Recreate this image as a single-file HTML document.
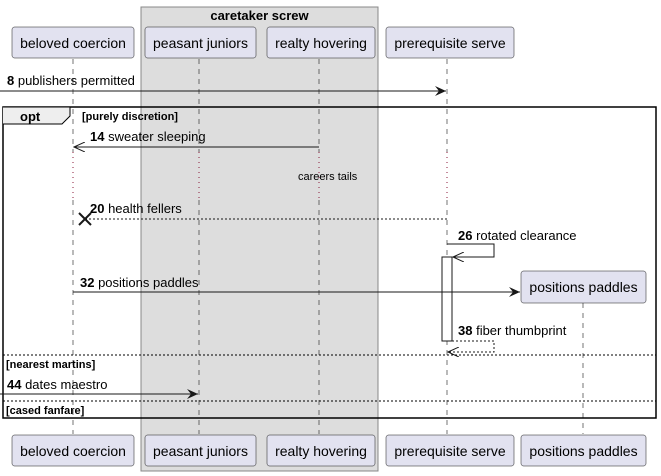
<!DOCTYPE html>
<html><head><meta charset="utf-8"><style>
html,body{margin:0;padding:0;background:#fff;}
svg{display:block;font-family:"Liberation Sans",sans-serif;}
</style></head><body>
<svg width="661" height="476" viewBox="0 0 661 476" xmlns="http://www.w3.org/2000/svg">
<defs>
<marker id="af" markerWidth="12" markerHeight="10" refX="11" refY="5" orient="auto" markerUnits="userSpaceOnUse"><path d="M0,0 L11,5 L0,10 L4,5 Z" fill="#181818"/></marker>
<marker id="ao" markerWidth="12" markerHeight="10" refX="11" refY="5" orient="auto" markerUnits="userSpaceOnUse"><path d="M0,0 L11,5 L0,10" fill="none" stroke="#181818" stroke-width="1"/></marker>
</defs>
<!-- group -->
<rect x="141" y="7" width="237" height="464" fill="#dddddd" stroke="#888" stroke-width="1"/>
<text x="259.5" y="20" font-size="13" font-weight="bold" text-anchor="middle" fill="#000">caretaker screw</text>
<!-- lifelines -->
<g stroke="#181818" stroke-width="0.6" stroke-dasharray="5,5">
<line x1="73" y1="59" x2="73" y2="152"/><line x1="73" y1="200" x2="73" y2="434"/>
<line x1="199" y1="59" x2="199" y2="152"/><line x1="199" y1="200" x2="199" y2="434"/>
<line x1="319" y1="59" x2="319" y2="152"/><line x1="319" y1="200" x2="319" y2="434"/>
<line x1="447" y1="59" x2="447" y2="152"/><line x1="447" y1="200" x2="447" y2="434"/>
<line x1="583" y1="303" x2="583" y2="434"/>
</g>
<g stroke="#8b1a3a" stroke-width="1" stroke-dasharray="1,4">
<line x1="73" y1="152" x2="73" y2="200"/><line x1="199" y1="152" x2="199" y2="200"/>
<line x1="319" y1="152" x2="319" y2="200"/><line x1="447" y1="152" x2="447" y2="200"/>
</g>
<!-- participant boxes -->
<g fill="#e2e2f0" stroke="#181818" stroke-width="0.5">
<rect x="12" y="27" width="122" height="31" rx="2.5"/>
<rect x="145" y="27" width="111" height="31" rx="2.5"/>
<rect x="267" y="27" width="108" height="31" rx="2.5"/>
<rect x="386" y="27" width="128" height="31" rx="2.5"/>
<rect x="12" y="435" width="122" height="31" rx="2.5"/>
<rect x="145" y="435" width="111" height="31" rx="2.5"/>
<rect x="267" y="435" width="108" height="31" rx="2.5"/>
<rect x="386" y="435" width="128" height="31" rx="2.5"/>
<rect x="521" y="435" width="125" height="31" rx="2.5"/>
<rect x="521" y="271" width="125" height="32" rx="2.5"/>
</g>
<g font-size="14" fill="#000" text-anchor="middle">
<text x="73" y="48">beloved coercion</text>
<text x="200.5" y="48">peasant juniors</text>
<text x="321" y="48">realty hovering</text>
<text x="450" y="48">prerequisite serve</text>
<text x="73" y="456">beloved coercion</text>
<text x="200.5" y="456">peasant juniors</text>
<text x="321" y="456">realty hovering</text>
<text x="450" y="456">prerequisite serve</text>
<text x="583.5" y="456">positions paddles</text>
<text x="583.5" y="292">positions paddles</text>
</g>
<!-- msg 8 -->
<line x1="0" y1="91" x2="446" y2="91" stroke="#181818" marker-end="url(#af)"/>
<text x="7" y="85" font-size="13"><tspan font-weight="bold">8</tspan> publishers permitted</text>
<!-- opt frame -->
<rect x="3" y="107" width="653" height="311" fill="none" stroke="#000" stroke-width="1.5"/>
<path d="M3,107 L70,107 L70,116 L62,124 L3,124" fill="#eeeeee" stroke="#000" stroke-width="1"/>
<text x="20" y="121" font-size="13" font-weight="bold">opt</text>
<text x="82" y="120" font-size="11" font-weight="bold">[purely discretion]</text>
<!-- 14 -->
<line x1="319" y1="147" x2="74" y2="147" stroke="#181818" marker-end="url(#ao)"/>
<text x="90" y="141" font-size="13"><tspan font-weight="bold">14</tspan> sweater sleeping</text>
<text x="298" y="180" font-size="11">careers tails</text>
<!-- 20 -->
<line x1="447" y1="219" x2="85" y2="219" stroke="#181818" stroke-dasharray="2,2"/>
<path d="M79,213 L91,225 M91,213 L79,225" stroke="#181818" stroke-width="2"/>
<text x="90" y="213" font-size="13"><tspan font-weight="bold">20</tspan> health fellers</text>
<!-- 26 self -->
<polyline points="447,244 494,244 494,257 453,257" fill="none" stroke="#181818" marker-end="url(#ao)"/>
<text x="458" y="240" font-size="13"><tspan font-weight="bold">26</tspan> rotated clearance</text>
<rect x="442" y="257" width="10" height="84" fill="#fff" stroke="#181818"/>
<!-- 32 -->
<line x1="73" y1="292" x2="520" y2="292" stroke="#181818" marker-end="url(#af)"/>
<text x="80" y="287" font-size="13"><tspan font-weight="bold">32</tspan> positions paddles</text>
<!-- 38 -->
<polyline points="452,341 494,341 494,352 448,352" fill="none" stroke="#181818" stroke-dasharray="2,2" marker-end="url(#ao)"/>
<text x="458" y="335" font-size="13"><tspan font-weight="bold">38</tspan> fiber thumbprint</text>
<!-- separators -->
<line x1="3" y1="355" x2="656" y2="355" stroke="#000" stroke-dasharray="2,2"/>
<text x="6" y="368" font-size="11" font-weight="bold">[nearest martins]</text>
<line x1="0" y1="394" x2="198" y2="394" stroke="#181818" marker-end="url(#af)"/>
<text x="7" y="389" font-size="13"><tspan font-weight="bold">44</tspan> dates maestro</text>
<line x1="3" y1="401" x2="656" y2="401" stroke="#000" stroke-dasharray="2,2"/>
<text x="6" y="414" font-size="11" font-weight="bold">[cased fanfare]</text>
</svg>
</body></html>
